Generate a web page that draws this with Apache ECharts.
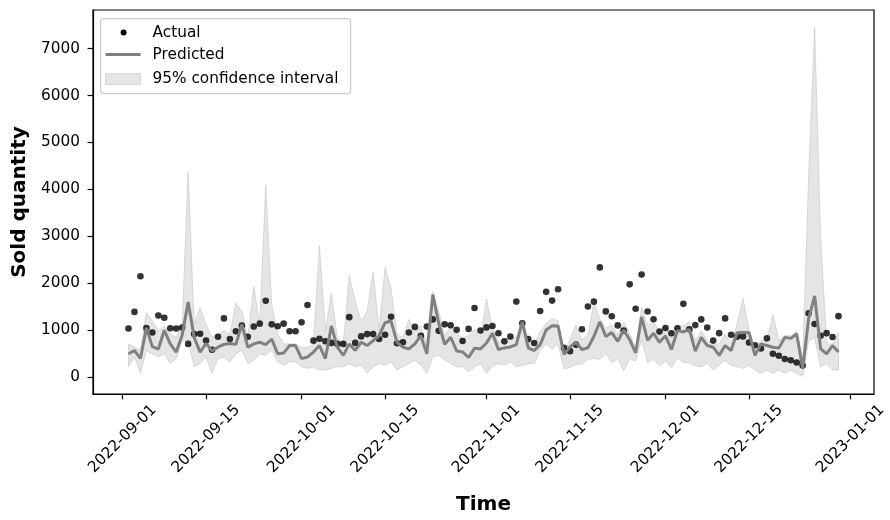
<!DOCTYPE html>
<html>
<head>
<meta charset="utf-8">
<script src="https://cdn.jsdelivr.net/npm/echarts@6/dist/echarts.min.js"></script>
<style>
  html, body { margin: 0; padding: 0; background: #fff; }
  #chart { width: 890px; height: 520px; }
</style>
</head>
<body>
<div id="chart"></div>
<script>
// Daily series, one value per day starting at firstDay
const firstDay = '2022-09-02';

const actual = [
  1037, 1392, 2150, 1050, 953, 1315, 1267, 1044, 1037, 1058,
  710, 919, 926, 780, 585, 863, 1253, 814, 981, 1100,
  863, 1079, 1141, 1628, 1127, 1086, 1141, 981, 981, 1169,
  1538, 779, 821, 765, 731, 710, 710, 1280, 731, 870,
  919, 919, 814, 905, 1287, 724, 745, 953, 1072, 884,
  1079, 1232, 988, 1127, 1106, 1009, 772, 1030, 1475, 993,
  1062, 1090, 937, 764, 868, 1611, 1150, 812, 729, 1410,
  1819, 1632, 1875, 625, 556, 694, 1021, 1507, 1610, 2340,
  1402, 1299, 1104, 993, 1979, 1458, 2187, 1400, 1236, 972,
  1049, 938, 1042, 1563, 1021, 1111, 1232, 1058, 780, 939,
  1253, 905, 863, 870, 738, 682, 612, 828, 501, 459,
  390, 362, 313, 250, 1364, 1134, 884, 939, 856, 1301
];

const predicted = [
  500, 570, 400, 1050, 650, 600, 1000, 710, 536, 900,
  1600, 850, 536, 720, 560, 640, 700, 720, 700, 1127,
  640, 710, 745, 696, 815, 500, 515, 675, 675, 397,
  431, 536, 675, 397, 1093, 640, 466, 710, 570, 745,
  675, 780, 884, 1162, 1197, 745, 640, 605, 710, 884,
  500, 1760, 1150, 700, 850, 560, 540, 420, 620, 600,
  729, 937, 590, 625, 646, 694, 1181, 625, 569, 694,
  1007, 1097, 1090, 486, 646, 743, 590, 625, 868, 1181,
  868, 952, 764, 1007, 799, 521, 1285, 785, 937, 743,
  882, 590, 993, 965, 1021, 556, 849, 675, 640, 466,
  675, 570, 950, 953, 953, 466, 710, 675, 640, 620,
  849, 828, 919, 188, 1250, 1733, 605, 500, 675, 536
];

const lower = [
  223, 431, 84, 571, 500, 431, 501, 292, 400, 780,
  779, 223, 292, 431, 84, 397, 431, 327, 501, 571,
  292, 362, 501, 466, 571, 327, 257, 327, 327, 223,
  188, 223, 153, 153, 188, 223, 223, 292, 223, 257,
  84, 223, 292, 257, 327, 153, 223, 292, 362, 257,
  84, 431, 466, 362, 292, 223, 223, 118, 223, 292,
  84, 223, 292, 257, 327, 223, 257, 292, 292, 571,
  710, 600, 700, 173, 208, 278, 278, 382, 400, 382,
  521, 312, 382, 139, 382, 350, 799, 312, 382, 243,
  347, 208, 417, 312, 312, 243, 223, 292, 153, 257,
  362, 257, 223, 188, 257, 153, 84, 153, 84, 153,
  84, 153, 84, 15, 779, 849, 223, 292, 153, 153
];

const upper = [
  710, 640, 571, 1371, 1197, 988, 1093, 919, 849, 1127,
  4380, 1127, 1475, 1127, 849, 919, 988, 919, 1580, 1406,
  849, 1930, 1127, 4085, 1545, 919, 710, 710, 710, 640,
  640, 700, 2800, 988, 1790, 849, 710, 2170, 1614, 1197,
  1406, 2240, 988, 2345, 1893, 919, 849, 1232, 988, 1093,
  710, 1823, 1400, 884, 1093, 919, 849, 884, 1023, 849,
  1667, 1042, 764, 800, 850, 850, 1215, 833, 694, 972,
  1146, 1250, 1200, 521, 799, 1111, 799, 900, 1600, 1250,
  1042, 1111, 903, 1181, 937, 625, 1493, 1111, 1181, 972,
  1111, 833, 1111, 1090, 1181, 785, 988, 779, 710, 710,
  919, 710, 1127, 1680, 988, 640, 779, 779, 1340, 779,
  884, 884, 988, 362, 4300, 7450, 3000, 710, 710, 953
];

// Axis ticks
const xTickLabels = [
  '2022-09-01', '2022-09-15', '2022-10-01', '2022-10-15', '2022-11-01',
  '2022-11-15', '2022-12-01', '2022-12-15', '2023-01-01'
];
const yTickValues = [0, 1000, 2000, 3000, 4000, 5000, 6000, 7000];

const DAY = 86400000;
const toMs = s => Date.parse(s + 'T00:00:00Z');
const t0 = toMs(firstDay);
const times = actual.map((_, i) => t0 + i * DAY);
const xTicks = xTickLabels.map(toMs);

// x range padded by 5% of the data span on each side
const span = times[times.length - 1] - times[0];
const xMin = times[0] - span * 0.05;
const xMax = times[times.length - 1] + span * 0.05;

const fmtDate = v => new Date(v).toISOString().slice(0, 10);

const FONT = 'DejaVu Sans';
const FS = 15.3;
const bandFill = 'rgba(211,211,211,0.6)';
const bandEdge = 'rgba(196,196,196,0.6)';

const chart = echarts.init(document.getElementById('chart'), null, { renderer: 'canvas' });

chart.setOption({
  animation: false,
  backgroundColor: '#ffffff',
  grid: {
    left: 93, right: 16, top: 10, bottom: 120,
    show: true, borderColor: '#000', borderWidth: 1.2, backgroundColor: 'transparent'
  },
  xAxis: {
    type: 'value',
    min: xMin,
    max: xMax,
    name: 'Time',
    nameLocation: 'middle',
    nameGap: 111,
    nameTextStyle: {
      fontFamily: FONT, fontSize: 20, fontWeight: 'bold', color: '#000',
      align: 'center', verticalAlign: 'middle'
    },
    axisLine: { show: true, onZero: false, lineStyle: { color: '#000', width: 1.2 } },
    axisTick: { show: true, length: 5.4, lineStyle: { color: '#000', width: 1.2 }, customValues: xTicks },
    axisLabel: {
      customValues: xTicks,
      formatter: fmtDate,
      rotate: 45,
      align: 'center',
      verticalAlign: 'middle',
      margin: 45,
      fontFamily: FONT, fontSize: FS, color: '#000'
    },
    splitLine: { show: false }
  },
  yAxis: {
    type: 'value',
    min: -357,
    max: 7822,
    name: 'Sold quantity',
    nameLocation: 'middle',
    nameRotate: 90,
    nameGap: 73,
    nameTextStyle: {
      fontFamily: FONT, fontSize: 20, fontWeight: 'bold', color: '#000',
      align: 'center', verticalAlign: 'middle'
    },
    axisLine: { show: true, onZero: false, lineStyle: { color: '#000', width: 1.2 } },
    axisTick: { show: true, length: 5.4, lineStyle: { color: '#000', width: 1.2 }, customValues: yTickValues },
    axisLabel: {
      customValues: yTickValues,
      formatter: v => String(v),
      margin: 13,
      fontFamily: FONT, fontSize: FS, color: '#000'
    },
    splitLine: { show: false }
  },
  series: [
    {
      // confidence band: one polygon along the upper bound and back along the lower bound
      name: '95% confidence interval',
      type: 'custom',
      silent: true,
      clip: true,
      data: [[times[0], upper[0]]],
      renderItem: (params, api) => {
        const top = times.map((t, i) => api.coord([t, upper[i]]));
        const bottom = times.map((t, i) => api.coord([t, lower[i]])).reverse();
        return {
          type: 'polygon',
          shape: { points: top.concat(bottom) },
          style: { fill: bandFill, stroke: bandEdge, lineWidth: 1 }
        };
      },
      z: 1
    },
    {
      name: 'Actual',
      type: 'scatter',
      data: times.map((t, i) => [t, actual[i]]),
      symbol: 'circle',
      symbolSize: 6.6,
      itemStyle: { color: '#000' },
      z: 2
    },
    {
      name: 'Predicted',
      type: 'line',
      data: times.map((t, i) => [t, predicted[i]]),
      showSymbol: false,
      lineStyle: { color: '#808080', width: 3 },
      z: 3
    }
  ],
  graphic: [
    {
      type: 'group',
      left: 100, top: 18,
      z: 10,
      children: [
        { type: 'rect', shape: { x: 0, y: 0, width: 250, height: 75, r: 3 },
          style: { fill: 'rgba(255,255,255,0.8)', stroke: '#cccccc', lineWidth: 1.2 } },
        { type: 'circle', shape: { cx: 23, cy: 14, r: 3 }, style: { fill: '#000' } },
        { type: 'text', x: 52, y: 14, style: { text: 'Actual', fontFamily: FONT, fontSize: FS, fill: '#000', verticalAlign: 'middle' } },
        { type: 'line', shape: { x1: 5, y1: 36, x2: 40, y2: 36 }, style: { stroke: '#808080', lineWidth: 3 } },
        { type: 'text', x: 52, y: 36, style: { text: 'Predicted', fontFamily: FONT, fontSize: FS, fill: '#000', verticalAlign: 'middle' } },
        { type: 'rect', shape: { x: 5, y: 55, width: 35, height: 11 }, style: { fill: bandFill, stroke: bandEdge, lineWidth: 1 } },
        { type: 'text', x: 52, y: 60, style: { text: '95% confidence interval', fontFamily: FONT, fontSize: FS, fill: '#000', verticalAlign: 'middle' } }
      ]
    }
  ]
});
</script>
</body>
</html>
